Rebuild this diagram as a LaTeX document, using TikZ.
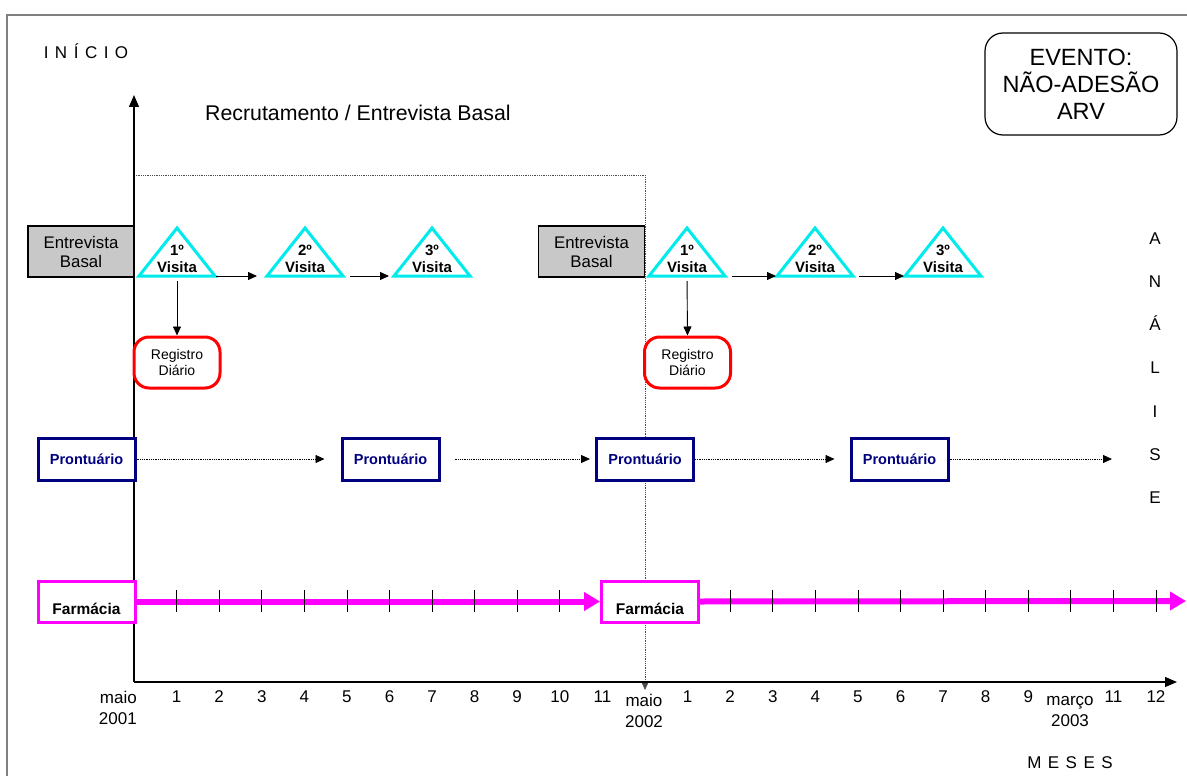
\documentclass[tikz,border=0pt]{standalone}
\usepackage{fontspec}
\setmainfont{Liberation Sans}
\usepackage{tikz}
\usetikzlibrary{arrows.meta, shapes.geometric}
\usepackage{xcolor}

\definecolor{visitcyan}{RGB}{0,235,235}
\definecolor{prontblue}{RGB}{0,0,128}
\definecolor{farmpink}{RGB}{255,0,255}
\definecolor{basalgray}{RGB}{200,200,200}
\definecolor{framegray}{RGB}{128,128,128}

\tikzset{
  basal/.style={draw, line width=1.8pt, fill=basalgray, minimum width=106pt, minimum height=51pt, inner sep=0pt, align=center, font=\fontsize{16.8}{19}\selectfont},
  visita/.style={isosceles triangle, isosceles triangle stretches, shape border rotate=90, draw=visitcyan, line width=3pt, minimum width=76pt, minimum height=48pt, inner sep=0pt, outer sep=0pt, anchor=apex},
  vislabel/.style={inner sep=0pt, align=center, font=\bfseries\fontsize{15}{16.5}\selectfont},
  registro/.style={draw=red, fill=white, line width=3pt, rounded corners=15pt, minimum width=86pt, minimum height=51pt, inner sep=0pt, align=center, font=\fontsize{14}{16}\selectfont},
  pront/.style={draw=prontblue, text=prontblue, fill=white, line width=3pt, minimum width=97pt, minimum height=42pt, inner sep=0pt, font=\bfseries\fontsize{14.5}{17}\selectfont},
  farm/.style={draw=farmpink, fill=white, line width=3pt, minimum width=97pt, minimum height=41pt, inner sep=0pt, text height=25pt, text depth=0pt, font=\bfseries\fontsize{15.5}{18}\selectfont},
  evento/.style={draw, line width=1.2pt, rounded corners=18pt, minimum width=192pt, minimum height=102pt, align=center, font=\fontsize{23.5}{27}\selectfont},
  arr/.style={line width=0.9pt, -{Triangle[length=9pt,width=8pt]}},
  dotarr/.style={densely dotted, line width=0.8pt, -{Triangle[length=9pt,width=8pt]}},
  timeaxis/.style={line width=1.2pt, -{Triangle[length=12pt,width=10pt]}},
  farmline/.style={farmpink, line width=6pt, -{Triangle[length=16pt,width=18pt]}},
  monthtick/.style={line width=0.8pt},
  monthlbl/.style={inner sep=0pt, align=center, font=\fontsize{17}{21}\selectfont},
  spaced/.style={inner sep=0pt, font=\fontsize{17}{20}\selectfont},
}

\begin{document}
\begin{tikzpicture}[x=1pt, y=-1pt]
\useasboundingbox (0,0) rectangle (1187,776);

% Moldura
\draw[framegray, line width=2pt] (7,776) -- (7,15) -- (1187,15);

% Eixos
\coordinate (o1) at (134,682);
\coordinate (o2) at (645,690);
\coordinate (ytop) at (134,95);
\coordinate (xend) at (1177,682);
\coordinate (rtop) at (134,175);
\draw[dotarr, black!70] (rtop) -| (o2);
\draw[timeaxis] (o1) -- (ytop);
\draw[timeaxis] (o1) -- (xend);

% Titulos
\node[spaced, anchor=base] (inicio) at (86,59) {I\hspace{6.5pt}N\hspace{6.5pt}Í\hspace{6.5pt}C\hspace{6.5pt}I\hspace{6.5pt}O};
\node[anchor=base west, inner sep=0pt, font=\fontsize{21.3}{24}\selectfont] (recr) at (205,121) {Recrutamento / Entrevista Basal};
\node[evento] (evento) at (1081,84) {EVENTO:\\NÃO-ADESÃO\\ARV};

% Primeiro ano
\node[basal] (eb1) at (81,251.5) {Entrevista\\Basal};
\node[visita] (v1) at (177,228) {};
\node[visita] (v2) at (305,228) {};
\node[visita] (v3) at (432,228) {};
\node[vislabel] (l1) at (177,259) {1º\\Visita};
\node[vislabel] (l2) at (305,259) {2º\\Visita};
\node[vislabel] (l3) at (432,259) {3º\\Visita};
\node[registro] (r1) at (177,362.5) {Registro\\Diário};
\node[pront] (p1) at (86.5,459) {Prontuário};
\node[pront] (p2) at (390.5,459) {Prontuário};
\node[farm] (f1) at (86.5,601.5) {Farmácia};

% Segundo ano
\node[basal] (eb2) at (591.5,251.5) {Entrevista\\Basal};
\node[visita] (v4) at (687,228) {};
\node[visita] (v5) at (815,228) {};
\node[visita] (v6) at (943,228) {};
\node[vislabel] (l4) at (687,259) {1º\\Visita};
\node[vislabel] (l5) at (815,259) {2º\\Visita};
\node[vislabel] (l6) at (943,259) {3º\\Visita};
\node[registro] (r2) at (687.5,362.5) {Registro\\Diário};
\node[pront] (p3) at (645,459) {Prontuário};
\node[pront] (p4) at (899.5,459) {Prontuário};
\node[farm] (f2) at (650,601.5) {Farmácia};

% Conexoes
\draw[arr, shorten <=1pt, shorten >=10pt] (v1.right corner) -- (v2.left corner);
\draw[arr, shorten <=7pt, shorten >=5pt] (v2.right corner) -- (v3.left corner);
\draw[arr, shorten <=7pt, shorten >=1pt] (v4.right corner) -- (v5.left corner);
\draw[arr, shorten <=6pt, shorten >=1pt] (v5.right corner) -- (v6.left corner);
\draw[arr, shorten <=5pt] (v1.south) -- (r1.north);
\draw[arr, shorten <=5pt] (v4.south) -- (r2.north);

\coordinate (pend) at (1112,459);
\draw[dotarr, shorten >=16pt] (p1.east) -- (p2.west);
\draw[dotarr, shorten <=14pt, shorten >=5pt] (p2.east) -- (p3.west);
\draw[dotarr, shorten >=15pt] (p3.east) -- (p4.west);
\draw[dotarr] (p4.east) -- (pend);

\coordinate (fend) at (1186,601);
\draw[farmline] (f1.east) -- (f2.west);
\draw[farmline] (f2.east) -- (fend);

% Meses
\foreach \k in {1,...,10} \draw[monthtick] (134+42.58*\k,590) -- (134+42.58*\k,612);
\foreach \k in {2,...,12} \draw[monthtick] (645+42.58*\k,590) -- (645+42.58*\k,612);
\foreach \k in {1,...,11} \node[monthlbl] (ma\k) at (134+42.58*\k,697) {\k};
\foreach \k in {1,2,3,4,5,6,7,8,9,11,12} \node[monthlbl] (mb\k) at (645+42.58*\k,697) {\k};
\node[monthlbl, anchor=east, align=right] (m2001) at (137,707.5) {maio\\2001};
\node[monthlbl] (m2002) at (644,711) {maio\\2002};
\node[monthlbl] (m2003) at (1070,712) {março\\2003};
\node[spaced, anchor=base] (meses) at (1070,768) {M\hspace{6.5pt}E\hspace{6.5pt}S\hspace{6.5pt}E\hspace{6.5pt}S};

% Analise
\foreach \ch [count=\i from 0] in {A,N,Á,L,I,S,E}
  \node[spaced, anchor=base] (an\i) at (1155,244+43.3*\i) {\ch};
\end{tikzpicture}
\end{document}
